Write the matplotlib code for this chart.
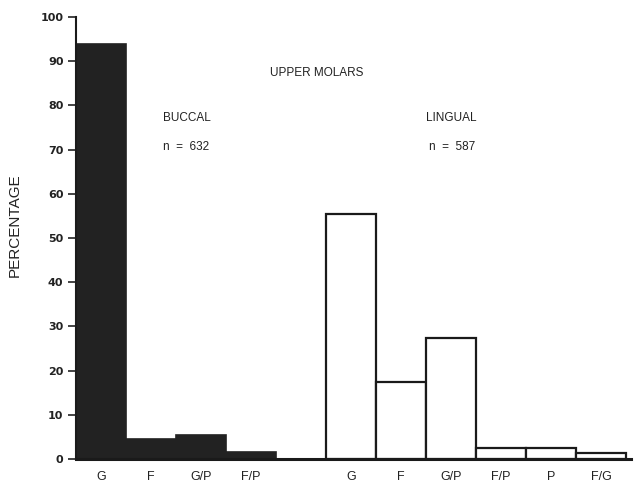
import matplotlib
matplotlib.use("Agg")
import matplotlib.pyplot as plt
import numpy as np

# percentage of surfaces per category, upper molars
buccal_labels = ["G", "F", "G/P", "F/P"]
buccal_values = [94.0, 4.6, 5.4, 1.6]

lingual_labels = ["G", "F", "G/P", "F/P", "P", "F/G"]
lingual_values = [55.5, 17.4, 27.3, 2.6, 2.6, 1.3]

y_ticks = [0, 10, 20, 30, 40, 50, 60, 70, 80, 90, 100]

plt.rcParams["font.family"] = ["Liberation Sans", "DejaVu Sans"]

fig = plt.figure(figsize=(6.37, 4.87), dpi=100)
ax = fig.add_axes([0.1193, 0.0575, 0.8713, 0.9075])

# buccal bars in slots 0-3, one empty slot, lingual bars after it
x_b = np.arange(len(buccal_values))
x_l = np.arange(len(lingual_values)) + len(buccal_values) + 1

ax.bar(x_b, buccal_values, width=1.0, align="edge",
       color="#222222", edgecolor="#222222", linewidth=1.2)
ax.bar(x_l, lingual_values, width=1.0, align="edge",
       color="white", edgecolor="#1a1a1a", linewidth=1.6)

ax.set_xlim(0, 11.1)
ax.set_ylim(0, 100)

ax.set_xticks(np.concatenate([x_b, x_l]) + 0.5)
ax.set_xticklabels(buccal_labels + lingual_labels, fontsize=9)
ax.tick_params(axis="x", length=0, pad=9, colors="#222222")

ax.set_yticks(y_ticks)
ax.set_yticklabels([str(t) for t in y_ticks], fontsize=8, fontweight="bold",
                   family="DejaVu Sans")
ax.tick_params(axis="y", length=6, width=1.2, pad=3, colors="#222222")

for side in ["top", "right"]:
    ax.spines[side].set_visible(False)
ax.spines["left"].set_linewidth(1.5)
ax.spines["left"].set_color("#1a1a1a")
ax.spines["bottom"].set_linewidth(2.2)
ax.spines["bottom"].set_color("#1a1a1a")

ax.set_ylabel("PERCENTAGE", fontsize=11, color="#222222")
ax.yaxis.set_label_coords(-0.097, 0.53)

ax.text(4.81, 87.3, "UPPER MOLARS", ha="center", va="center", fontsize=8.5, color="#222222")
ax.text(1.74, 77.1, "BUCCAL", ha="left", va="center", fontsize=8.5, color="#222222")
ax.text(1.74, 70.6, "n  =  632", ha="left", va="center", fontsize=8.5, color="#222222")
ax.text(7.0, 77.1, "LINGUAL", ha="left", va="center", fontsize=8.5, color="#222222")
ax.text(7.05, 70.6, "n  =  587", ha="left", va="center", fontsize=8.5, color="#222222")

fig.savefig("out.png", dpi=100)
